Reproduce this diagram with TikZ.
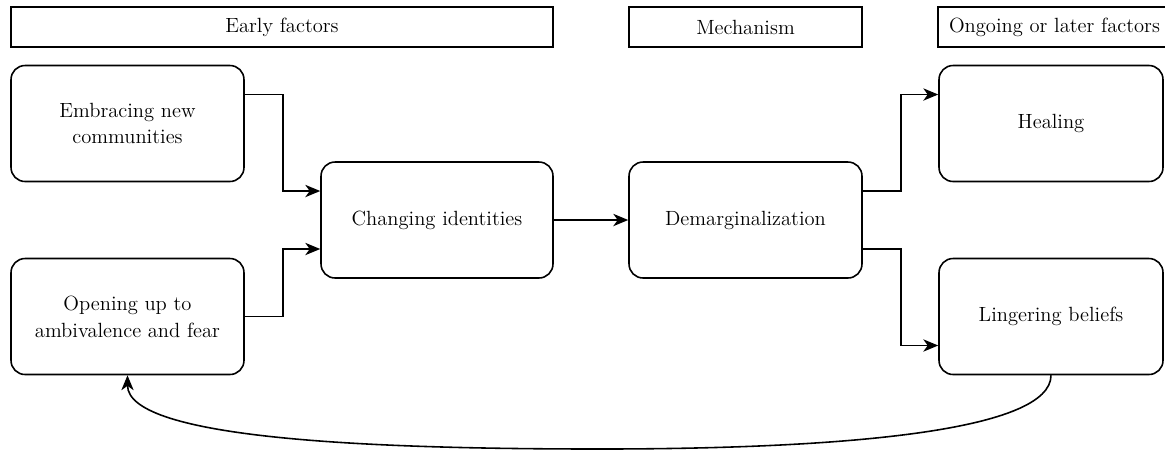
\documentclass[tikz,border=0pt]{standalone}
\usetikzlibrary{arrows.meta}

\begin{document}
\begin{tikzpicture}[x=0.02cm, y=-0.02cm, line width=0.9pt,
  font=\fontsize{11.7}{15.3}\selectfont,
  header/.style={draw, minimum height=0.8cm, inner sep=0pt},
  stage/.style={draw, rounded corners=0.28cm, minimum width=4.66cm, minimum height=2.32cm, align=center, inner sep=2pt},
  link/.style={-{Stealth[length=8.5pt, width=7pt, inset=2.5pt]}}]
% stage headers, boxes and links between them
\useasboundingbox (0,0) rectangle (1165,451);
\node[header, minimum width=10.84cm] (hearly) at (282,27) {Early factors};
\node[header, minimum width=4.66cm] (hmech) at (745.5,27) {Mechanism};
\node[header, minimum width=4.66cm] (hlater) at (1054.5,27) {Ongoing or later factors};
\node[stage] (embrace) at (127.5,123.5) {Embracing new\\communities};
\node[stage] (opening) at (127.5,316.5) {Opening up to\\ambivalence and fear};
\node[stage, minimum width=4.64cm] (changing) at (437,220) {Changing identities};
\node[stage] (demarg) at (745.5,220) {Demarginalization};
\node[stage, minimum width=4.48cm] (healing) at (1051,123.5) {Healing};
\node[stage, minimum width=4.48cm] (lingering) at (1051,316.5) {Lingering beliefs};
\draw[link] ([yshift=0.58cm]embrace.east) -- ++(38,0) |- ([yshift=0.58cm]changing.west);
\draw[link] (opening.east) -- ++(38,0) |- ([yshift=-0.58cm]changing.west);
\draw[link] (changing) -- (demarg);
\draw[link] ([yshift=0.58cm]demarg.east) -- ++(38,0) |- ([yshift=0.58cm]healing.west);
\draw[link] ([yshift=-0.58cm]demarg.east) -- ++(38,0) |- ([yshift=-0.58cm]lingering.west);
\coordinate (loopbot) at (600,449);
\draw[link] (lingering.south) .. controls +(0,55) and (850,449) .. (loopbot)
  .. controls (380,449) and (127.5,440) .. (opening.south);
\end{tikzpicture}
\end{document}
